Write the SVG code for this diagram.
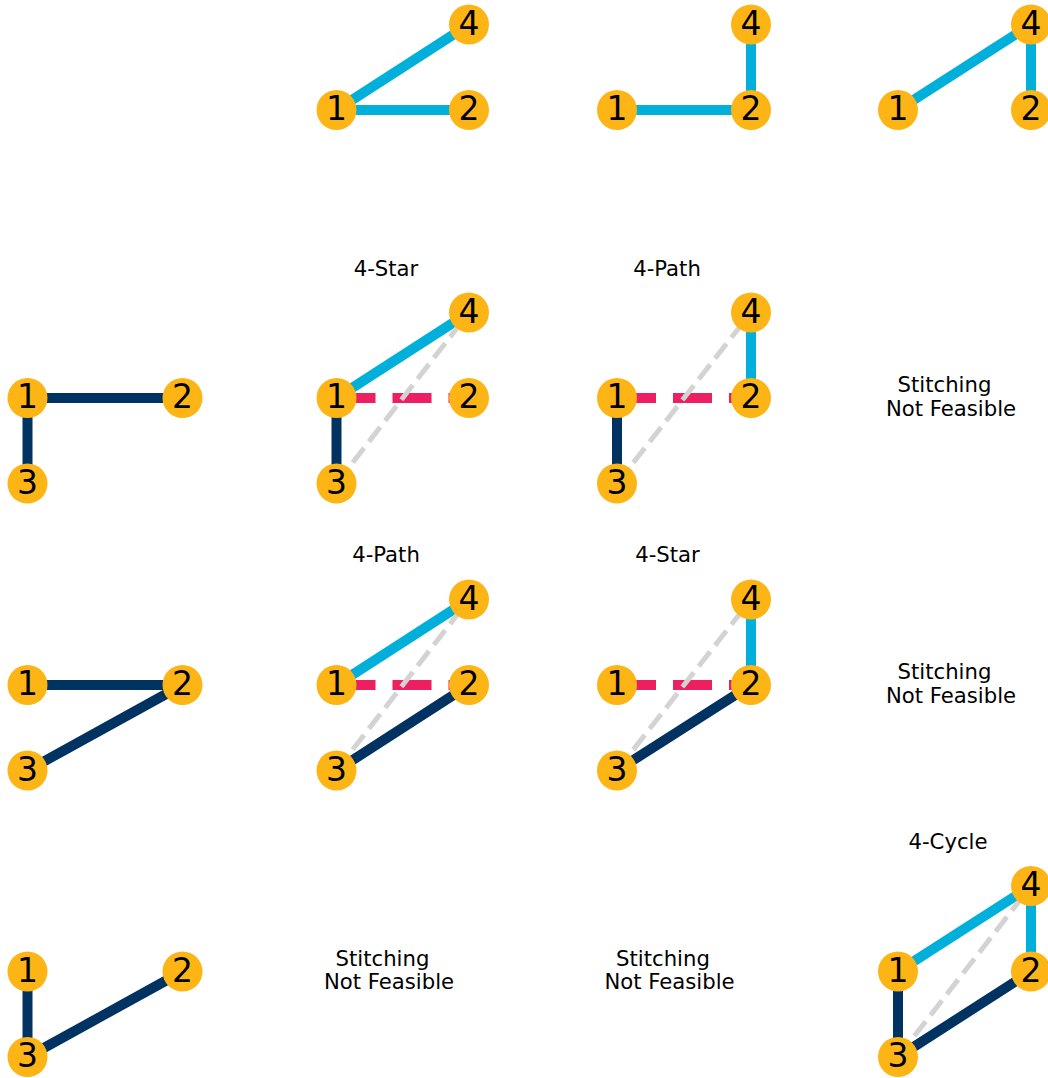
<svg xmlns="http://www.w3.org/2000/svg" width="1048" height="1078" viewBox="0 0 1048 1078">
<style>
.bg{fill:#ffffff}
.e{fill:none;stroke-linecap:butt}
.blue{stroke:#00B0DA;stroke-width:10}
.navy{stroke:#003262;stroke-width:10}
.pink{stroke:#EE1F60;stroke-width:10;stroke-dasharray:39 17}
.gray{stroke:#D3D3D3;stroke-width:5;stroke-dasharray:18.5 8}
.node circle{fill:#FDB515}
.node text{font-family:"DejaVu Sans","Liberation Sans",sans-serif;font-size:33px;fill:#000000;text-anchor:middle}
.t{font-family:"DejaVu Sans","Liberation Sans",sans-serif;font-size:21.2px;fill:#000000;text-anchor:middle}
</style>
<rect class="bg" x="0" y="0" width="1048" height="1078"/>
<g id="titles">
<text class="t" x="386" y="276">4-Star</text>
<text class="t" x="667" y="276">4-Path</text>
<text class="t" x="944.5" y="392">Stitching</text>
<text class="t" x="951" y="415.5">Not Feasible</text>
<text class="t" x="386" y="562">4-Path</text>
<text class="t" x="667.5" y="562">4-Star</text>
<text class="t" x="944.5" y="679">Stitching</text>
<text class="t" x="951" y="702.5">Not Feasible</text>
<text class="t" x="382.5" y="965.5">Stitching</text>
<text class="t" x="389" y="989">Not Feasible</text>
<text class="t" x="663" y="965.5">Stitching</text>
<text class="t" x="669.5" y="989">Not Feasible</text>
<text class="t" x="948" y="849">4-Cycle</text>
</g>
<g id="connectors">
<line class="e blue" x1="336.5" y1="110" x2="469" y2="24.5"/>
<line class="e blue" x1="336.5" y1="110" x2="469" y2="110"/>
<line class="e blue" x1="617" y1="110" x2="751" y2="110"/>
<line class="e blue" x1="751" y1="110" x2="751" y2="24.5"/>
<line class="e blue" x1="898" y1="110" x2="1031" y2="24.5"/>
<line class="e blue" x1="1031" y1="24.5" x2="1031" y2="110"/>
<line class="e navy" x1="27.5" y1="398" x2="182.5" y2="398"/>
<line class="e navy" x1="27.5" y1="398" x2="27.5" y2="483.5"/>
<line class="e blue" x1="336.5" y1="398" x2="469" y2="312.5"/>
<line class="e navy" x1="336.5" y1="398" x2="336.5" y2="483.5"/>
<line class="e pink" x1="336.5" y1="398" x2="469" y2="398"/>
<line class="e gray" x1="336.5" y1="483.5" x2="469" y2="312.5"/>
<line class="e blue" x1="751" y1="398" x2="751" y2="312.5"/>
<line class="e navy" x1="617" y1="398" x2="617" y2="483.5"/>
<line class="e pink" x1="617" y1="398" x2="751" y2="398"/>
<line class="e gray" x1="617" y1="483.5" x2="751" y2="312.5"/>
<line class="e navy" x1="27.5" y1="685" x2="182.5" y2="685"/>
<line class="e navy" x1="182.5" y1="685" x2="27.5" y2="770.5"/>
<line class="e blue" x1="336.5" y1="685" x2="469" y2="599.5"/>
<line class="e navy" x1="469" y1="685" x2="336.5" y2="770.5"/>
<line class="e pink" x1="336.5" y1="685" x2="469" y2="685"/>
<line class="e gray" x1="336.5" y1="770.5" x2="469" y2="599.5"/>
<line class="e blue" x1="751" y1="685" x2="751" y2="599.5"/>
<line class="e navy" x1="751" y1="685" x2="617" y2="770.5"/>
<line class="e pink" x1="617" y1="685" x2="751" y2="685"/>
<line class="e gray" x1="617" y1="770.5" x2="751" y2="599.5"/>
<line class="e navy" x1="27.5" y1="971.5" x2="27.5" y2="1057"/>
<line class="e navy" x1="27.5" y1="1057" x2="182.5" y2="971.5"/>
<line class="e blue" x1="898" y1="971.5" x2="1031" y2="886"/>
<line class="e blue" x1="1031" y1="886" x2="1031" y2="971.5"/>
<line class="e navy" x1="898" y1="971.5" x2="898" y2="1057"/>
<line class="e navy" x1="898" y1="1057" x2="1031" y2="971.5"/>
<line class="e gray" x1="898" y1="1057" x2="1031" y2="886"/>
</g>
<g id="r0c2n1" class="node"><circle cx="336.5" cy="110" r="20"/><text x="336.5" y="120">1</text></g>
<g id="r0c2n2" class="node"><circle cx="469" cy="110" r="20"/><text x="469" y="120">2</text></g>
<g id="r0c2n4" class="node"><circle cx="469" cy="24.5" r="20"/><text x="469" y="34.5">4</text></g>
<g id="r0c3n1" class="node"><circle cx="617" cy="110" r="20"/><text x="617" y="120">1</text></g>
<g id="r0c3n2" class="node"><circle cx="751" cy="110" r="20"/><text x="751" y="120">2</text></g>
<g id="r0c3n4" class="node"><circle cx="751" cy="24.5" r="20"/><text x="751" y="34.5">4</text></g>
<g id="r0c4n1" class="node"><circle cx="898" cy="110" r="20"/><text x="898" y="120">1</text></g>
<g id="r0c4n2" class="node"><circle cx="1031" cy="110" r="20"/><text x="1031" y="120">2</text></g>
<g id="r0c4n4" class="node"><circle cx="1031" cy="24.5" r="20"/><text x="1031" y="34.5">4</text></g>
<g id="r1c1n1" class="node"><circle cx="27.5" cy="398" r="20"/><text x="27.5" y="408">1</text></g>
<g id="r1c1n2" class="node"><circle cx="182.5" cy="398" r="20"/><text x="182.5" y="408">2</text></g>
<g id="r1c1n3" class="node"><circle cx="27.5" cy="483.5" r="20"/><text x="27.5" y="493.5">3</text></g>
<g id="r1c2n1" class="node"><circle cx="336.5" cy="398" r="20"/><text x="336.5" y="408">1</text></g>
<g id="r1c2n2" class="node"><circle cx="469" cy="398" r="20"/><text x="469" y="408">2</text></g>
<g id="r1c2n3" class="node"><circle cx="336.5" cy="483.5" r="20"/><text x="336.5" y="493.5">3</text></g>
<g id="r1c2n4" class="node"><circle cx="469" cy="312.5" r="20"/><text x="469" y="322.5">4</text></g>
<g id="r1c3n1" class="node"><circle cx="617" cy="398" r="20"/><text x="617" y="408">1</text></g>
<g id="r1c3n2" class="node"><circle cx="751" cy="398" r="20"/><text x="751" y="408">2</text></g>
<g id="r1c3n3" class="node"><circle cx="617" cy="483.5" r="20"/><text x="617" y="493.5">3</text></g>
<g id="r1c3n4" class="node"><circle cx="751" cy="312.5" r="20"/><text x="751" y="322.5">4</text></g>
<g id="r2c1n1" class="node"><circle cx="27.5" cy="685" r="20"/><text x="27.5" y="695">1</text></g>
<g id="r2c1n2" class="node"><circle cx="182.5" cy="685" r="20"/><text x="182.5" y="695">2</text></g>
<g id="r2c1n3" class="node"><circle cx="27.5" cy="770.5" r="20"/><text x="27.5" y="780.5">3</text></g>
<g id="r2c2n1" class="node"><circle cx="336.5" cy="685" r="20"/><text x="336.5" y="695">1</text></g>
<g id="r2c2n2" class="node"><circle cx="469" cy="685" r="20"/><text x="469" y="695">2</text></g>
<g id="r2c2n3" class="node"><circle cx="336.5" cy="770.5" r="20"/><text x="336.5" y="780.5">3</text></g>
<g id="r2c2n4" class="node"><circle cx="469" cy="599.5" r="20"/><text x="469" y="609.5">4</text></g>
<g id="r2c3n1" class="node"><circle cx="617" cy="685" r="20"/><text x="617" y="695">1</text></g>
<g id="r2c3n2" class="node"><circle cx="751" cy="685" r="20"/><text x="751" y="695">2</text></g>
<g id="r2c3n3" class="node"><circle cx="617" cy="770.5" r="20"/><text x="617" y="780.5">3</text></g>
<g id="r2c3n4" class="node"><circle cx="751" cy="599.5" r="20"/><text x="751" y="609.5">4</text></g>
<g id="r3c1n1" class="node"><circle cx="27.5" cy="971.5" r="20"/><text x="27.5" y="981.5">1</text></g>
<g id="r3c1n2" class="node"><circle cx="182.5" cy="971.5" r="20"/><text x="182.5" y="981.5">2</text></g>
<g id="r3c1n3" class="node"><circle cx="27.5" cy="1057" r="20"/><text x="27.5" y="1067">3</text></g>
<g id="r3c4n1" class="node"><circle cx="898" cy="971.5" r="20"/><text x="898" y="981.5">1</text></g>
<g id="r3c4n2" class="node"><circle cx="1031" cy="971.5" r="20"/><text x="1031" y="981.5">2</text></g>
<g id="r3c4n3" class="node"><circle cx="898" cy="1057" r="20"/><text x="898" y="1067">3</text></g>
<g id="r3c4n4" class="node"><circle cx="1031" cy="886" r="20"/><text x="1031" y="896">4</text></g>
</svg>
